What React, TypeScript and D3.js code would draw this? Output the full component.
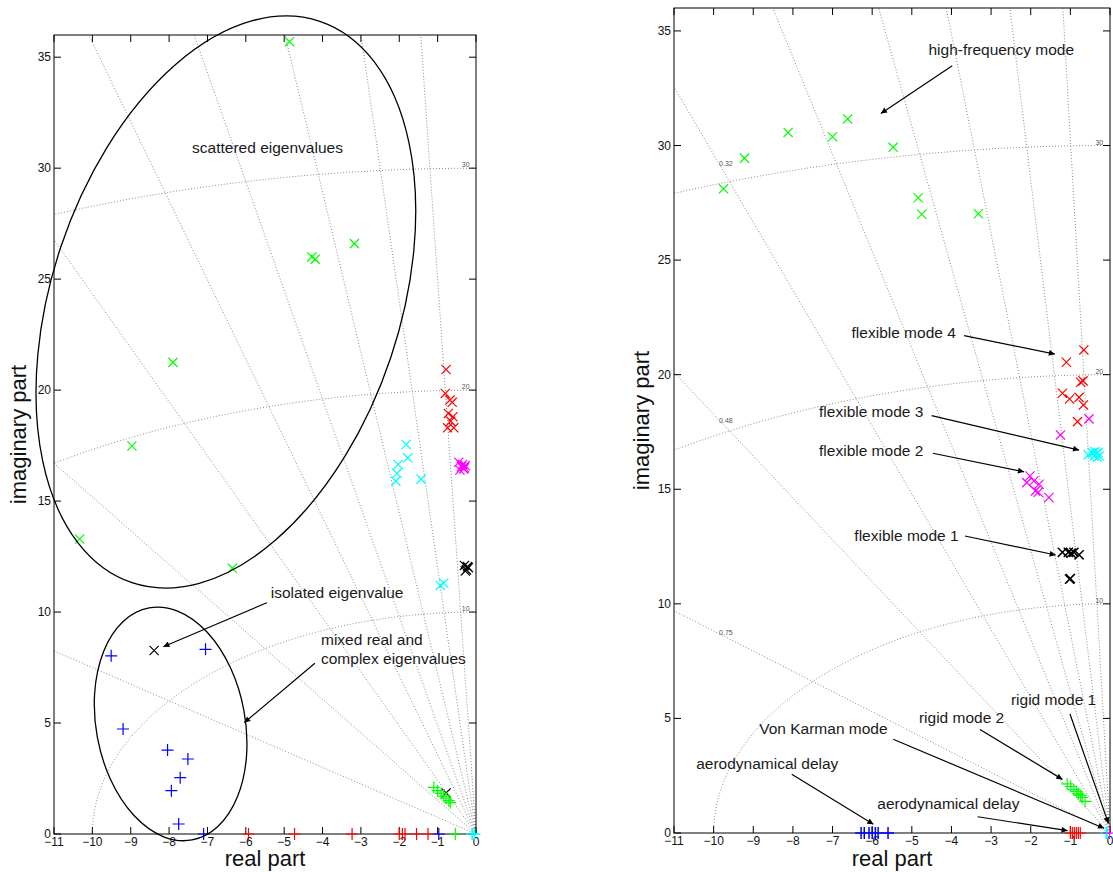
import React from 'react';
import * as d3 from 'd3';

const W = 1113;
const H = 872;

// ---------- shared axis values ----------
const xTicks = [-11, -10, -9, -8, -7, -6, -5, -4, -3, -2, -1, 0];
const yTicks = [0, 5, 10, 15, 20, 25, 30, 35];
const freqCircles = [10, 20, 30];

// ---------- left panel data ----------
const leftZetas = [0.04, 0.083, 0.137, 0.2, 0.27, 0.38, 0.55, 0.8];
const leftGreenCross = [[-4.86, 35.7], [-4.28, 26.0], [-4.19, 25.9], [-3.17, 26.6], [-7.9, 21.25], [-8.97, 17.48], [-10.33, 13.29], [-6.35, 11.97]];
const leftRedCross = [[-0.78, 20.93], [-0.8, 19.85], [-0.68, 19.55], [-0.62, 19.45], [-0.72, 18.95], [-0.6, 18.8], [-0.74, 18.3], [-0.58, 18.3], [-0.66, 18.6]];
const leftCyanCross = [[-1.82, 17.55], [-1.78, 16.95], [-2.03, 16.65], [-2.06, 16.25], [-2.09, 15.9], [-1.43, 15.99], [-0.93, 11.2], [-0.84, 11.3]];
const leftMagentaCross = [[-0.45, 16.75], [-0.38, 16.55], [-0.32, 16.45], [-0.28, 16.6], [-0.42, 16.4], [-0.35, 16.65], [-0.3, 16.5]];
const leftBlackCross = [[-8.39, 8.27], [-0.3, 12.1], [-0.25, 11.9], [-0.2, 12.0], [-0.28, 11.85], [-0.22, 12.05], [-0.78, 1.85]];
const leftBluePlus = [[-9.51, 8.03], [-7.05, 8.32], [-9.2, 4.73], [-8.04, 3.78], [-7.51, 3.38], [-7.71, 2.54], [-7.94, 1.95], [-7.75, 0.45], [-7.1, 0], [-0.97, 0]];
const leftRedPlus = [[-5.93, 0], [-4.73, 0], [-3.23, 0], [-2.0, 0], [-1.92, 0], [-1.85, 0], [-1.55, 0], [-1.25, 0]];
const leftGreenPlus = [[-1.1, 2.1], [-1.0, 1.95], [-0.91, 1.83], [-0.84, 1.71], [-0.78, 1.61], [-0.71, 1.5], [-0.67, 1.41], [-0.54, 0]];
const leftCyanPlus = [[-0.1, 0], [-0.04, 0]];

const leftTexts = [
  { t: 'scattered eigenvalues', x: -7.4, y: 30.69 },
  { t: 'isolated eigenvalue', x: -5.35, y: 10.62 },
  { t: 'mixed real and', x: -4.04, y: 8.52 },
  { t: 'complex eigenvalues', x: -4.04, y: 7.66 },
];
const leftArrows = [
  [-5.45, 10.42, -8.15, 8.44],
  [-4.2, 7.69, -6.04, 5.02],
];
const leftEllipses = [
  { cx: -6.52, cy: 23.97, rx: 174, ry: 296, rot: 18.5 },
  { cx: -7.96, cy: 4.96, rx: 74.5, ry: 118, rot: -10.5 },
];

// ---------- right panel data ----------
const rightZetas = [0.033, 0.07, 0.114, 0.16, 0.23, 0.32, 0.48, 0.75];
const rightZetaLabels = [
  { t: '0.32', x: -9.69, y: 29.2 },
  { t: '0.48', x: -9.69, y: 18.02 },
  { t: '0.75', x: -9.69, y: 8.73 },
];
const rightGreenCross = [[-9.75, 28.11], [-9.22, 29.45], [-8.12, 30.57], [-7.0, 30.38], [-6.62, 31.16], [-5.47, 29.92], [-4.84, 27.72], [-4.75, 27.0], [-3.32, 27.02]];
const rightRedCross = [[-0.66, 21.08], [-1.1, 20.54], [-0.74, 19.67], [-0.68, 19.73], [-1.2, 19.19], [-1.02, 18.94], [-0.78, 19.01], [-0.67, 18.68], [-0.82, 17.95]];
const rightMagentaCross = [[-0.53, 18.07], [-1.25, 17.37], [-2.02, 15.58], [-2.1, 15.29], [-1.92, 15.36], [-1.79, 15.22], [-1.88, 14.93], [-1.81, 14.87], [-1.54, 14.64]];
const rightCyanCross = [[-0.55, 16.5], [-0.45, 16.6], [-0.4, 16.45], [-0.35, 16.55], [-0.3, 16.6], [-0.27, 16.45], [-0.38, 16.65], [-0.32, 16.4]];
const rightBlackCross = [[-1.2, 12.25], [-1.05, 12.25], [-0.98, 12.21], [-0.91, 12.25], [-0.78, 12.14], [-1.02, 11.08], [-1.0, 11.1]];
const rightGreenPlus = [[-1.08, 2.14], [-0.99, 2.03], [-0.91, 1.89], [-0.84, 1.81], [-0.8, 1.71], [-0.74, 1.64], [-0.7, 1.55], [-0.63, 1.38]];
const rightRedPlus = [[-1.0, 0], [-0.95, 0], [-0.9, 0], [-0.85, 0], [-0.8, 0], [-0.75, 0]];
const rightBluePlus = [[-6.28, 0], [-6.2, 0], [-6.08, 0], [-6.0, 0], [-5.92, 0], [-5.85, 0], [-5.6, 0]];
const rightCyanPlus = [[-0.1, 0], [-0.07, 0]];
const rightMagentaPlus = [[-0.01, 0]];

const rightTexts = [
  { t: 'high-frequency mode', x: -4.58, y: 33.94 },
  { t: 'flexible mode 4', x: -6.52, y: 21.61 },
  { t: 'flexible mode 3', x: -7.34, y: 18.14 },
  { t: 'flexible mode 2', x: -7.34, y: 16.46 },
  { t: 'flexible mode 1', x: -6.45, y: 12.75 },
  { t: 'rigid mode 1', x: -2.5, y: 5.58 },
  { t: 'rigid mode 2', x: -4.82, y: 4.81 },
  { t: 'Von Karman mode', x: -8.85, y: 4.31 },
  { t: 'aerodynamical delay', x: -10.44, y: 2.78 },
  { t: 'aerodynamical delay', x: -5.87, y: 1.03 },
];
const rightArrows = [
  [-3.98, 33.48, -5.78, 31.4],
  [-3.68, 21.7, -1.39, 20.9],
  [-4.5, 18.21, -0.78, 16.71],
  [-4.47, 16.57, -2.17, 15.76],
  [-3.66, 12.96, -1.37, 12.13],
  [-1.01, 5.19, -0.04, 0.42],
  [-3.28, 4.52, -1.2, 2.34],
  [-5.47, 4.09, -0.15, 0.21],
  [-8.03, 2.56, -5.97, 0.38],
  [-3.34, 0.71, -1.07, 0.1],
];

const FONT = '"Liberation Sans", Arial, Helvetica, sans-serif';

type Series = { pts: number[][]; color: string; kind: 'x' | '+'; w?: number };

function Panel(props: {
  id: string;
  px: [number, number];
  py: [number, number];
  zetas: number[];
  zetaLabels?: { t: string; x: number; y: number }[];
  series: Series[];
  texts: { t: string; x: number; y: number }[];
  arrows: number[][];
  ellipses?: { cx: number; cy: number; rx: number; ry: number; rot: number }[];
  yLabelX: number;
}) {
  const { id, px, py } = props;
  const x = d3.scaleLinear().domain([-11, 0]).range(px);
  const y = d3.scaleLinear().domain([0, 36]).range(py);
  const line = d3.line<number[]>().x((d) => x(d[0])).y((d) => y(d[1]));

  // circles of constant natural frequency
  const circlePaths = freqCircles.map((wn) => {
    const pts: number[][] = [];
    for (let i = 0; i <= 360; i++) {
      const th = Math.PI / 2 + (Math.PI / 2) * (i / 360);
      pts.push([wn * Math.cos(th), wn * Math.sin(th)]);
    }
    return line(pts) as string;
  });
  // rays of constant damping
  const rayPaths = props.zetas.map((z) => {
    const t = Math.sqrt(1 - z * z) / z;
    const R = 60;
    return line([[0, 0], [-R, R * t]]) as string;
  });

  const tickLen = 7;
  const cross = (cx: number, cy: number, s = 4.6) =>
    `M${cx - s},${cy - s}L${cx + s},${cy + s}M${cx - s},${cy + s}L${cx + s},${cy - s}`;
  const plus = (cx: number, cy: number, s = 6) =>
    `M${cx - s},${cy}L${cx + s},${cy}M${cx},${cy - s}L${cx},${cy + s}`;

  return (
    <g>
      <defs>
        <clipPath id={`clip-${id}`}>
          <rect x={px[0]} y={py[1]} width={px[1] - px[0]} height={py[0] - py[1]} />
        </clipPath>
        <marker id={`arrow-${id}`} viewBox="0 0 10 10" refX="10" refY="5" markerWidth="9" markerHeight="6" markerUnits="userSpaceOnUse" orient="auto">
          <path d="M0,0L10,5L0,10z" fill="#000" />
        </marker>
      </defs>
      <g clipPath={`url(#clip-${id})`} fill="none" stroke="#8a8a8a" strokeWidth={1} strokeDasharray="1 2">
        {circlePaths.map((d, i) => <path key={'c' + i} d={d} />)}
        {rayPaths.map((d, i) => <path key={'r' + i} d={d} />)}
      </g>
      {freqCircles.map((wn) => (
        <text key={'fl' + wn} x={x(-0.27)} y={y(wn + 0.15)} fontSize={7} fill="#555" textAnchor="middle" dominantBaseline="central" fontFamily={FONT}>{wn}</text>
      ))}
      {(props.zetaLabels || []).map((l, i) => (
        <text key={'zl' + i} x={x(l.x)} y={y(l.y)} fontSize={7} fill="#555" textAnchor="middle" dominantBaseline="central" fontFamily={FONT}>{l.t}</text>
      ))}
      {/* frame */}
      <rect x={px[0]} y={py[1]} width={px[1] - px[0]} height={py[0] - py[1]} fill="none" stroke="#000" strokeWidth={1} />
      {xTicks.map((t) => (
        <g key={'xt' + t}>
          <line x1={x(t)} x2={x(t)} y1={py[0]} y2={py[0] - tickLen} stroke="#000" />
          <line x1={x(t)} x2={x(t)} y1={py[1]} y2={py[1] + tickLen} stroke="#000" />
          <text x={x(t)} y={py[0] + 12} fontSize={12} textAnchor="middle" fontFamily={FONT} fill="#111">{t < 0 ? '\u2212' + Math.abs(t) : t}</text>
        </g>
      ))}
      {yTicks.map((t) => (
        <g key={'yt' + t}>
          <line x1={px[0]} x2={px[0] + tickLen} y1={y(t)} y2={y(t)} stroke="#000" />
          <line x1={px[1]} x2={px[1] - tickLen} y1={y(t)} y2={y(t)} stroke="#000" />
          <text x={px[0] - 3} y={y(t)} fontSize={12} textAnchor="end" dominantBaseline="central" fontFamily={FONT} fill="#111">{t}</text>
        </g>
      ))}
      <text x={(px[0] + px[1]) / 2} y={866} fontSize={22} textAnchor="middle" fontFamily={FONT} fill="#111">real part</text>
      <text transform={`translate(${props.yLabelX},${(py[0] + py[1]) / 2}) rotate(-90)`} fontSize={22} textAnchor="middle" fontFamily={FONT} fill="#111">imaginary part</text>
      {/* markers */}
      {props.series.map((s, si) => (
        <path key={'s' + si} d={s.pts.map((p) => (s.kind === 'x' ? cross(x(p[0]), y(p[1])) : plus(x(p[0]), y(p[1])))).join('')} stroke={s.color} strokeWidth={s.w || 1.2} fill="none" />
      ))}
      {/* annotations */}
      {(props.ellipses || []).map((e, i) => (
        <ellipse key={'e' + i} cx={0} cy={0} rx={e.rx} ry={e.ry} transform={`translate(${x(e.cx)},${y(e.cy)}) rotate(${e.rot})`} fill="none" stroke="#000" strokeWidth={1.3} />
      ))}
      {props.arrows.map((a, i) => (
        <line key={'a' + i} x1={x(a[0])} y1={y(a[1])} x2={x(a[2])} y2={y(a[3])} stroke="#000" strokeWidth={1.2} markerEnd={`url(#arrow-${id})`} />
      ))}
      {props.texts.map((t, i) => (
        <text key={'t' + i} x={x(t.x)} y={y(t.y)} fontSize={15.5} fontFamily={FONT} fill="#1a1a1a">{t.t}</text>
      ))}
    </g>
  );
}

export default function App() {
  const leftSeries: Series[] = [
    { pts: leftBlackCross, color: '#000', kind: 'x' },
    { pts: leftGreenCross, color: '#00ff00', kind: 'x' },
    { pts: leftRedCross, color: '#ff0000', kind: 'x' },
    { pts: leftCyanCross, color: '#00ffff', kind: 'x' },
    { pts: leftMagentaCross, color: '#ff00ff', kind: 'x' },
    { pts: leftBluePlus, color: '#0000ff', kind: '+' },
    { pts: leftRedPlus, color: '#ff0000', kind: '+' },
    { pts: leftGreenPlus, color: '#00ff00', kind: '+' },
    { pts: leftCyanPlus, color: '#00ffff', kind: '+', w: 1.6 },
  ];
  const rightSeries: Series[] = [
    { pts: rightGreenCross, color: '#00ff00', kind: 'x' },
    { pts: rightRedCross, color: '#ff0000', kind: 'x' },
    { pts: rightMagentaCross, color: '#ff00ff', kind: 'x' },
    { pts: rightCyanCross, color: '#00ffff', kind: 'x' },
    { pts: rightBlackCross, color: '#000', kind: 'x', w: 1.5 },
    { pts: rightGreenPlus, color: '#00ff00', kind: '+' },
    { pts: rightRedPlus, color: '#ff0000', kind: '+' },
    { pts: rightBluePlus, color: '#0000ff', kind: '+', w: 1.5 },
    { pts: rightCyanPlus, color: '#00ffff', kind: '+' },
    { pts: rightMagentaPlus, color: '#ff00ff', kind: '+' },
  ];
  return (
    <svg width={W} height={H} style={{ position: 'absolute', left: 0, top: 0, background: '#fff' }}>
      <rect width={W} height={H} fill="#fff" />
      <Panel id="L" px={[54, 476]} py={[834, 35]} zetas={leftZetas} series={leftSeries} texts={leftTexts} arrows={leftArrows} ellipses={leftEllipses} yLabelX={25.5} />
      <Panel id="R" px={[674, 1110]} py={[833, 8]} zetas={rightZetas} zetaLabels={rightZetaLabels} series={rightSeries} texts={rightTexts} arrows={rightArrows} yLabelX={649} />
    </svg>
  );
}
